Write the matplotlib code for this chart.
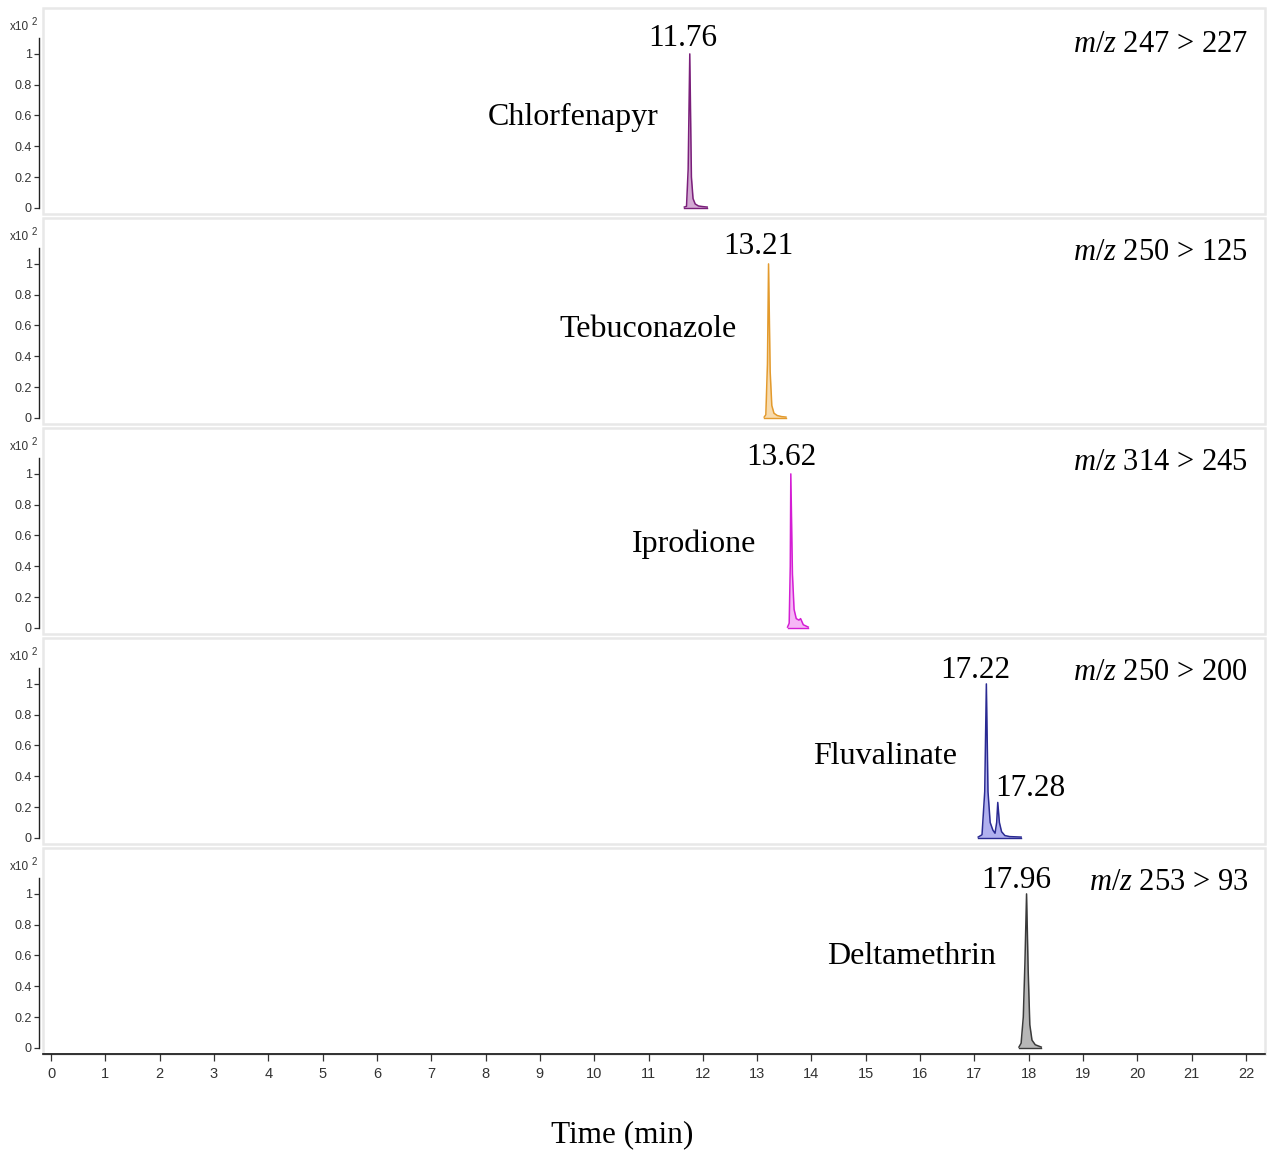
import matplotlib
matplotlib.use("Agg")
import matplotlib.pyplot as plt
from matplotlib.patches import Rectangle

# ---------------- data ----------------
compounds = ["Chlorfenapyr", "Tebuconazole", "Iprodione", "Fluvalinate", "Deltamethrin"]
transitions = ["247 > 227", "250 > 125", "314 > 245", "250 > 200", "253 > 93"]
rt_labels = [["11.76"], ["13.21"], ["13.62"], ["17.22", "17.28"], ["17.96"]]

chlorfenapyr_t = [11.66, 11.70, 11.73, 11.76, 11.79, 11.82, 11.86, 11.92, 12.00, 12.08]
chlorfenapyr_i = [0.005, 0.01, 0.25, 1.00, 0.20, 0.06, 0.025, 0.012, 0.008, 0.005]

tebuconazole_t = [13.13, 13.16, 13.19, 13.21, 13.24, 13.27, 13.31, 13.37, 13.45, 13.53]
tebuconazole_i = [0.005, 0.02, 0.35, 1.00, 0.30, 0.08, 0.03, 0.015, 0.008, 0.005]

iprodione_t = [13.56, 13.59, 13.61, 13.62, 13.65, 13.68, 13.72, 13.77, 13.80, 13.85, 13.94]
iprodione_i = [0.005, 0.03, 0.40, 1.00, 0.35, 0.12, 0.06, 0.05, 0.06, 0.02, 0.005]

fluvalinate_t = [17.07, 17.14, 17.19, 17.22, 17.25, 17.29, 17.34, 17.38, 17.41, 17.43,
                 17.46, 17.50, 17.56, 17.65, 17.86]
fluvalinate_i = [0.005, 0.02, 0.30, 1.00, 0.30, 0.10, 0.05, 0.03, 0.10, 0.23,
                 0.10, 0.04, 0.015, 0.008, 0.005]

deltamethrin_t = [17.82, 17.86, 17.90, 17.93, 17.96, 17.99, 18.02, 18.06, 18.12, 18.23]
deltamethrin_i = [0.005, 0.03, 0.20, 0.55, 1.00, 0.50, 0.15, 0.05, 0.02, 0.005]

series_t = [chlorfenapyr_t, tebuconazole_t, iprodione_t, fluvalinate_t, deltamethrin_t]
series_i = [chlorfenapyr_i, tebuconazole_i, iprodione_i, fluvalinate_i, deltamethrin_i]

y_ticks = [0, 0.2, 0.4, 0.6, 0.8, 1]
y_ticklabels = ["0", "0.2", "0.4", "0.6", "0.8", "1"]
x_ticks = list(range(0, 23))

# ---------------- style ----------------
line_colors = ["#7a1f7a", "#e39a2c", "#d41ed4", "#2a2a92", "#3a3a3a"]
fill_colors = ["#cfa0cf", "#f8d8a4", "#f5b0f5", "#a8a8ee", "#b0b0b0"]

plt.rcParams['mathtext.fontset'] = 'custom'
plt.rcParams['mathtext.rm'] = 'Liberation Serif'
plt.rcParams['mathtext.it'] = 'Liberation Serif:italic'

W, H = 1268, 1151
fig = plt.figure(figsize=(W / 100, H / 100), dpi=100)

tick_font = ['Liberation Sans Narrow', 'Liberation Sans', 'DejaVu Sans']
serif = ['Liberation Serif', 'DejaVu Serif']

left_px, right_px = 43, 1265
panel_h = 206
panel_step = 210
top0 = 8

# label layout in pixels (x centre, y offset from panel top)
rt_pos = [[(683, 31)], [(758, 29)], [(781, 29)], [(975, 33), (1030, 150)], [(1016, 33)]]
name_pos = [(573, 109), (648, 111), (694, 116), (885, 118), (911, 109)]
mz_y = [37, 34, 34, 34, 34]


def fx(px):
    return px / W


def fy(py):
    return 1 - py / H


x0_px, x_per = 51, (1246 - 51) / 22.0
xlim = ((left_px - x0_px) / x_per, (right_px - x0_px) / x_per)

for k in range(5):
    top = top0 + k * panel_step
    ax = fig.add_axes([fx(left_px), fy(top + panel_h), (right_px - left_px) / W, panel_h / H])
    ax.set_xlim(*xlim)
    ax.set_ylim(-0.04, 1.298)
    ax.patch.set_alpha(0)

    for s in ['top', 'right']:
        ax.spines[s].set_visible(False)
    ax.spines['left'].set_color('#222222')
    ax.spines['left'].set_linewidth(1.0)
    ax.spines['left'].set_position(('outward', 3))
    ax.spines['left'].set_bounds(0, 1.1)

    # light grey frame
    ax.add_patch(Rectangle((0, 0), 1, 1, transform=ax.transAxes, fill=False,
                           edgecolor='#e8e8e8', lw=1.8, clip_on=False, zorder=0))

    ax.set_yticks(y_ticks)
    ax.set_yticklabels(y_ticklabels, fontfamily=tick_font, fontsize=9, color='#333333')
    ax.tick_params(axis='y', direction='out', length=3.5, width=0.9, color='#333333', pad=1.5)

    if k < 4:
        ax.spines['bottom'].set_visible(False)
        ax.set_xticks([])
    else:
        ax.spines['bottom'].set_color('#111111')
        ax.spines['bottom'].set_linewidth(1.2)
        ax.set_xticks(x_ticks)
        ax.set_xticklabels([str(v) for v in x_ticks], fontfamily=tick_font, fontsize=10.5,
                           color='#333333')
        ax.tick_params(axis='x', direction='out', length=5, width=0.9, color='#333333', pad=4)

    t = series_t[k]
    i = series_i[k]
    ax.fill_between(t, 0, i, color=fill_colors[k], alpha=0.9, lw=0, zorder=2)
    ax.plot(t, i, color=line_colors[k], lw=1.1, zorder=3)
    ax.plot([t[0], t[-1]], [0, 0], color=line_colors[k], lw=1.0, zorder=3)

    # x10^2 label
    fig.text(fx(10), fy(top + 19), "x10", fontfamily=tick_font, fontsize=8.5, color='#333333',
             ha='left', va='center')
    fig.text(fx(32), fy(top + 14), "2", fontfamily=tick_font, fontsize=7, color='#333333',
             ha='left', va='center')

    for lab, (px, py) in zip(rt_labels[k], rt_pos[k]):
        fig.text(fx(px), fy(top + py), lab, fontfamily=serif, fontsize=22.5, ha='center',
                 va='center', color='black')
    nx, ny = name_pos[k]
    fig.text(fx(nx), fy(top + ny), compounds[k], fontfamily=serif, fontsize=23,
             ha='center', va='center', color='black')
    fig.text(fx(1248), fy(top + mz_y[k]), r"$m/z$ " + transitions[k], fontfamily=serif,
             fontsize=22, ha='right', va='center', color='black')

fig.text(fx(622), fy(1135), "Time (min)", fontfamily=serif, fontsize=22.5, ha='center',
         va='center', color='black')

fig.savefig("out.png", dpi=100, facecolor='white')
